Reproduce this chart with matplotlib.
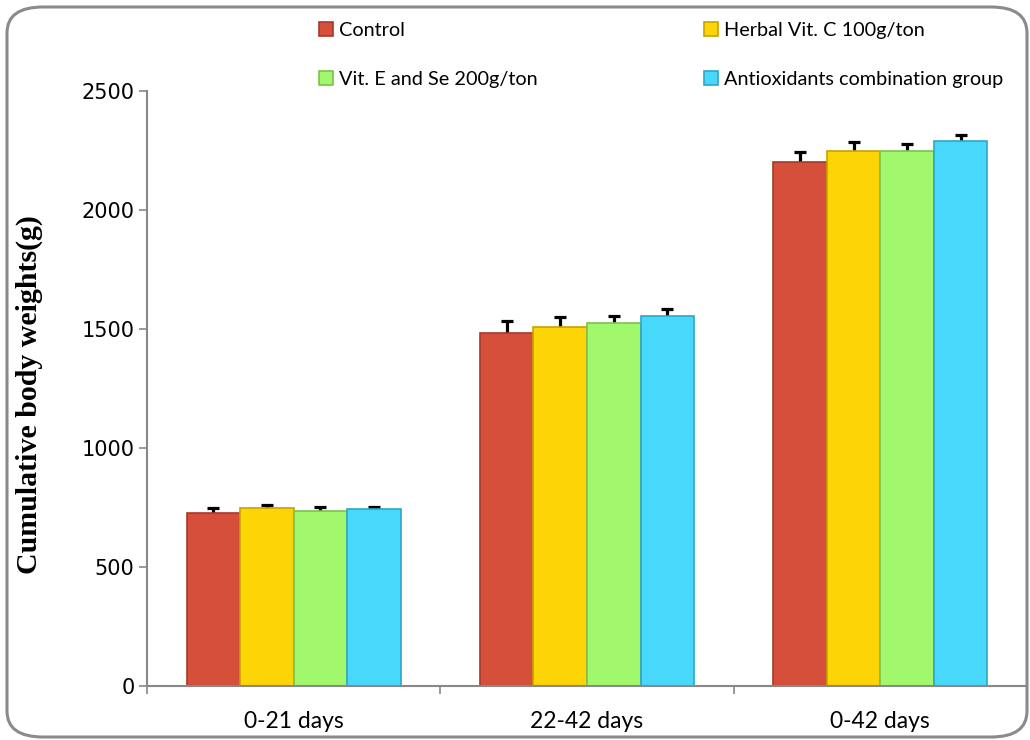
import matplotlib
matplotlib.use("Agg")
import matplotlib.pyplot as plt
import numpy as np
from matplotlib.patches import FancyBboxPatch

categories = ["0-21 days", "22-42 days", "0-42 days"]
series_names = ["Control", "Herbal Vit. C 100g/ton", "Vit. E and Se 200g/ton",
                "Antioxidants combination group"]
control = [726, 1482, 2203]
herbal_c = [749, 1507, 2249]
vit_e_se = [737, 1524, 2249]
antiox = [744, 1555, 2291]
control_err = [21, 52, 42]
herbal_c_err = [11, 42, 37]
vit_e_se_err = [16, 32, 27]
antiox_err = [9, 28, 24]

values = [control, herbal_c, vit_e_se, antiox]
errors = [control_err, herbal_c_err, vit_e_se_err, antiox_err]
colors = ["#D64F3A", "#FDD405", "#A2F86C", "#48D8FC"]
edges = ["#A63A2A", "#C9A200", "#7CC24E", "#2FA6C8"]

plt.rcParams['font.family'] = ['Lato', 'DejaVu Sans']

fig = plt.figure(figsize=(10.3, 7.4), dpi=100)
border = FancyBboxPatch((7/1030, 3/740), 1020/1030, 730/740,
                        boxstyle="round,pad=0,rounding_size=0.035",
                        transform=fig.transFigure, facecolor="none",
                        edgecolor="#8a8a8a", linewidth=2.2, zorder=-1)
fig.patches.append(border)

ax = fig.add_axes([147/1030, 54/740, 880/1030, 595/740])
ax.set_facecolor("none")

x = np.arange(len(categories))
bw = 0.1825
handles = []
for i, (vals, errs) in enumerate(zip(values, errors)):
    pos = x + (i - 1.5) * bw
    h = ax.bar(pos, vals, width=bw, color=colors[i], edgecolor=edges[i],
               linewidth=1.2, label=series_names[i], zorder=2)
    handles.append(h)
    ax.errorbar(pos, vals, yerr=errs, fmt='none',
                ecolor='black', elinewidth=2.3, capsize=4.2, capthick=2.3, zorder=1.5)

ax.set_xlim(-0.5, 2.5)
ax.set_ylim(0, 2500)
ax.set_yticks(np.arange(0, 2501, 500))
ax.tick_params(axis='y', length=6, color='#888888', width=1.2, pad=3)
for lab in ax.get_yticklabels():
    lab.set_family('DejaVu Sans')
    lab.set_fontsize(15)
ax.set_xticks(x)
ax.set_xticklabels(categories, fontsize=16.5)
ax.tick_params(axis='x', which='major', length=0, pad=18)
ax.set_xticks(np.arange(-0.5, 3.0, 1.0), minor=True)
ax.tick_params(axis='x', which='minor', length=6, color='#888888', width=1.2)
for s in ['top', 'right']:
    ax.spines[s].set_visible(False)
for s in ['left', 'bottom']:
    ax.spines[s].set_color('#888888')
    ax.spines[s].set_linewidth(1.5)

ax.set_ylabel("Cumulative body weights(g)", fontsize=21.5, fontweight='bold',
              family='Liberation Serif')
ax.yaxis.set_label_coords(-0.118, 0.49)

order = [0, 2, 1, 3]
fig.legend([handles[k] for k in order], [series_names[k] for k in order],
           ncol=2, loc='upper left', bbox_to_anchor=(301/1030, 1 - 4/740),
           frameon=False, fontsize=14.3, handlelength=0.7, handleheight=0.7,
           handletextpad=0.3, labelspacing=1.6, columnspacing=8.4)

fig.savefig("out.png", dpi=100)
